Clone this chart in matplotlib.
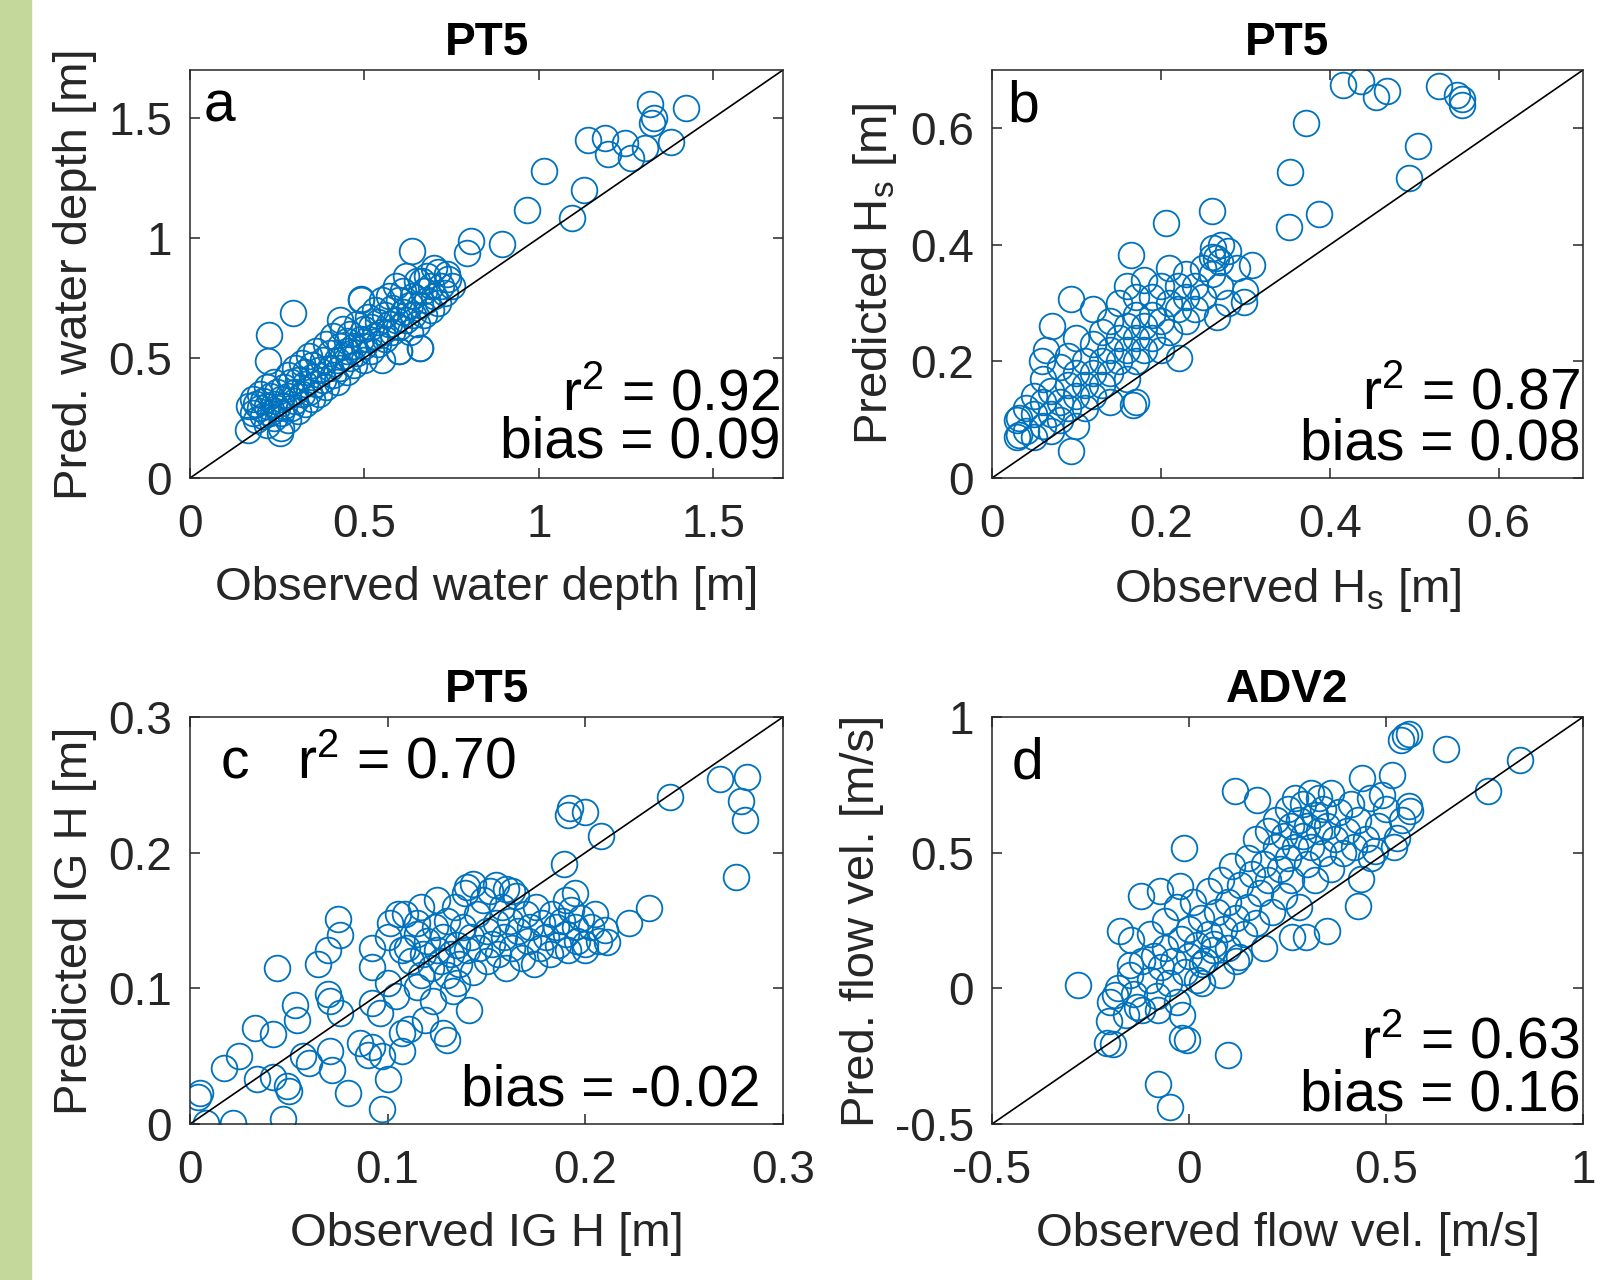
import numpy as np
import matplotlib
matplotlib.use("Agg")
import matplotlib.pyplot as plt

plt.rcParams['font.family'] = ['Liberation Sans', 'DejaVu Sans']
plt.rcParams['mathtext.fontset'] = 'custom'
plt.rcParams['mathtext.rm'] = 'Liberation Sans'
plt.rcParams['mathtext.it'] = 'Liberation Sans:italic'
plt.rcParams['mathtext.bf'] = 'Liberation Sans:bold'

# ---------------- data (observed, predicted) ----------------
pts_a = np.array([
    (1.318, 1.558), (1.423, 1.541), (1.331, 1.502), (1.325, 1.481), (1.379, 1.398),
    (1.141, 1.408), (1.191, 1.416), (1.197, 1.349), (1.247, 1.394), (1.264, 1.335),
    (1.303, 1.377), (1.015, 1.280), (1.130, 1.199), (0.965, 1.115), (1.096, 1.085),
    (0.805, 0.987), (0.794, 0.939), (0.895, 0.976), (0.635, 0.946), (0.699, 0.876),
    (0.738, 0.848), (0.666, 0.821), (0.296, 0.688), (0.227, 0.595), (0.660, 0.542),
    (0.600, 0.528), (0.166, 0.202), (0.257, 0.188), (0.224, 0.487), (0.490, 0.744),
    (0.430, 0.660),
    (0.17, 0.30), (0.18, 0.27), (0.18, 0.33), (0.19, 0.24), (0.19, 0.31), (0.20, 0.29),
    (0.20, 0.35), (0.21, 0.26), (0.21, 0.32), (0.22, 0.22), (0.22, 0.30), (0.22, 0.38),
    (0.23, 0.27), (0.23, 0.34), (0.24, 0.25), (0.24, 0.31), (0.24, 0.40), (0.25, 0.29),
    (0.25, 0.36), (0.26, 0.21), (0.26, 0.33), (0.26, 0.27),
    (0.27, 0.30), (0.27, 0.38), (0.28, 0.24), (0.28, 0.34), (0.28, 0.43), (0.29, 0.29),
    (0.29, 0.40), (0.30, 0.32), (0.30, 0.36), (0.30, 0.46), (0.31, 0.28), (0.31, 0.41),
    (0.32, 0.35), (0.32, 0.48), (0.33, 0.31), (0.33, 0.44), (0.33, 0.39), (0.34, 0.36),
    (0.34, 0.51), (0.35, 0.33), (0.35, 0.42), (0.35, 0.47),
    (0.36, 0.39), (0.36, 0.53), (0.37, 0.45), (0.37, 0.35), (0.38, 0.49), (0.38, 0.41),
    (0.39, 0.56), (0.39, 0.38), (0.40, 0.46), (0.40, 0.52), (0.41, 0.43), (0.41, 0.59),
    (0.42, 0.49), (0.42, 0.40), (0.43, 0.55), (0.43, 0.46), (0.44, 0.51), (0.44, 0.62),
    (0.45, 0.44), (0.45, 0.57), (0.45, 0.53),
    (0.46, 0.50), (0.46, 0.60), (0.47, 0.47), (0.47, 0.55), (0.48, 0.64), (0.48, 0.52),
    (0.49, 0.58), (0.49, 0.74), (0.50, 0.55), (0.50, 0.62), (0.50, 0.49), (0.51, 0.67),
    (0.51, 0.58), (0.52, 0.53), (0.52, 0.63), (0.53, 0.70), (0.53, 0.59), (0.54, 0.56),
    (0.54, 0.65), (0.55, 0.61), (0.55, 0.74), (0.55, 0.49),
    (0.56, 0.68), (0.56, 0.58), (0.57, 0.64), (0.57, 0.76), (0.58, 0.61), (0.58, 0.71),
    (0.59, 0.66), (0.59, 0.80), (0.60, 0.63), (0.60, 0.74), (0.60, 0.53), (0.61, 0.69),
    (0.61, 0.78), (0.62, 0.66), (0.62, 0.84), (0.63, 0.72), (0.63, 0.61), (0.64, 0.76),
    (0.64, 0.68), (0.65, 0.82), (0.65, 0.64),
    (0.66, 0.72), (0.66, 0.54), (0.67, 0.78), (0.67, 0.68), (0.68, 0.84), (0.68, 0.74),
    (0.69, 0.70), (0.69, 0.80), (0.70, 0.76), (0.71, 0.86), (0.71, 0.73), (0.72, 0.80),
    (0.73, 0.77), (0.74, 0.83), (0.75, 0.80),
])

pts_b = np.array([
    (0.416, 0.675), (0.437, 0.681), (0.455, 0.653), (0.468, 0.664), (0.530, 0.673),
    (0.551, 0.657), (0.557, 0.651), (0.557, 0.640), (0.372, 0.609), (0.505, 0.569),
    (0.353, 0.525), (0.494, 0.514), (0.206, 0.438), (0.260, 0.458), (0.352, 0.431),
    (0.387, 0.453), (0.165, 0.383), (0.262, 0.394), (0.271, 0.400), (0.265, 0.377),
    (0.308, 0.366), (0.299, 0.302), (0.093, 0.307), (0.071, 0.260), (0.094, 0.047),
    (0.167, 0.126), (0.170, 0.130), (0.222, 0.206), (0.267, 0.277), (0.032, 0.103),
    (0.032, 0.074), (0.059, 0.200), (0.064, 0.220),
    (0.03, 0.10), (0.03, 0.07), (0.04, 0.12), (0.04, 0.08), (0.05, 0.11), (0.05, 0.14),
    (0.05, 0.07), (0.06, 0.09), (0.06, 0.13), (0.06, 0.17), (0.07, 0.11), (0.07, 0.15),
    (0.07, 0.08), (0.08, 0.13), (0.08, 0.19), (0.08, 0.10), (0.09, 0.16), (0.09, 0.12),
    (0.09, 0.21), (0.10, 0.14), (0.10, 0.18), (0.10, 0.09), (0.10, 0.24), (0.11, 0.16),
    (0.11, 0.20), (0.11, 0.12), (0.12, 0.18), (0.12, 0.23), (0.12, 0.14), (0.12, 0.29),
    (0.13, 0.20), (0.13, 0.16), (0.13, 0.25), (0.14, 0.22), (0.14, 0.18), (0.14, 0.27),
    (0.14, 0.13), (0.15, 0.24), (0.15, 0.20), (0.15, 0.30), (0.16, 0.22), (0.16, 0.26),
    (0.16, 0.17), (0.16, 0.33), (0.17, 0.24), (0.17, 0.28), (0.17, 0.20), (0.17, 0.31),
    (0.18, 0.26), (0.18, 0.22), (0.18, 0.34), (0.19, 0.28), (0.19, 0.24), (0.19, 0.31),
    (0.20, 0.27), (0.20, 0.33), (0.20, 0.22), (0.21, 0.30), (0.21, 0.36), (0.21, 0.25),
    (0.22, 0.29), (0.22, 0.33), (0.23, 0.31), (0.23, 0.27), (0.23, 0.35), (0.24, 0.33),
    (0.24, 0.29), (0.25, 0.36), (0.25, 0.31), (0.26, 0.38), (0.26, 0.35), (0.27, 0.37),
    (0.27, 0.33), (0.28, 0.39), (0.28, 0.30), (0.29, 0.36), (0.30, 0.32),
])

pts_c = np.array([
    (0.282, 0.256), (0.268, 0.254), (0.279, 0.238), (0.281, 0.224), (0.276, 0.182),
    (0.243, 0.241), (0.192, 0.233), (0.191, 0.228), (0.200, 0.230), (0.208, 0.212),
    (0.189, 0.192), (0.232, 0.159), (0.222, 0.148), (0.211, 0.134), (0.210, 0.143),
    (0.200, 0.133), (0.075, 0.151), (0.076, 0.139), (0.070, 0.128), (0.065, 0.118),
    (0.044, 0.115), (0.070, 0.096), (0.071, 0.091), (0.076, 0.082), (0.053, 0.088),
    (0.054, 0.077), (0.033, 0.071), (0.042, 0.066), (0.025, 0.050), (0.017, 0.041),
    (0.005, 0.023), (0.004, 0.020), (0.008, 0.001), (0.022, 0.001), (0.047, 0.004),
    (0.097, 0.011), (0.080, 0.023), (0.100, 0.033), (0.034, 0.033), (0.042, 0.035),
    (0.049, 0.028), (0.050, 0.024), (0.057, 0.050), (0.060, 0.045), (0.071, 0.054),
    (0.072, 0.040), (0.086, 0.060), (0.092, 0.057), (0.090, 0.051), (0.097, 0.050),
    (0.107, 0.054), (0.107, 0.067), (0.111, 0.070), (0.119, 0.077), (0.128, 0.067),
    (0.130, 0.062), (0.141, 0.084), (0.123, 0.091), (0.096, 0.082), (0.092, 0.089),
    (0.100, 0.104), (0.104, 0.094), (0.115, 0.101), (0.133, 0.098), (0.135, 0.104),
    (0.092, 0.116), (0.100, 0.138), (0.101, 0.148), (0.109, 0.155), (0.115, 0.148),
    (0.107, 0.128), (0.092, 0.130),
    (0.110, 0.130), (0.112, 0.120), (0.115, 0.140), (0.117, 0.110), (0.118, 0.125),
    (0.120, 0.135), (0.122, 0.115), (0.124, 0.145), (0.125, 0.128), (0.127, 0.120),
    (0.128, 0.138), (0.130, 0.110), (0.130, 0.150), (0.132, 0.125), (0.134, 0.160),
    (0.135, 0.132), (0.136, 0.118), (0.138, 0.145), (0.139, 0.170), (0.140, 0.128),
    (0.142, 0.138), (0.143, 0.112), (0.145, 0.155), (0.146, 0.130), (0.148, 0.165),
    (0.150, 0.120), (0.150, 0.142), (0.152, 0.172), (0.153, 0.133), (0.155, 0.148),
    (0.156, 0.125), (0.158, 0.160), (0.159, 0.138), (0.160, 0.115), (0.162, 0.150),
    (0.163, 0.130), (0.165, 0.168), (0.166, 0.142), (0.168, 0.122), (0.170, 0.155),
    (0.171, 0.135), (0.172, 0.145), (0.174, 0.118), (0.175, 0.160), (0.177, 0.130),
    (0.178, 0.148), (0.180, 0.138), (0.182, 0.125), (0.183, 0.155), (0.185, 0.145),
    (0.186, 0.132), (0.188, 0.150), (0.190, 0.140), (0.191, 0.128), (0.193, 0.158),
    (0.195, 0.145), (0.196, 0.135), (0.198, 0.152), (0.200, 0.128), (0.203, 0.145),
    (0.205, 0.155), (0.207, 0.135), (0.190, 0.165), (0.195, 0.170), (0.140, 0.175),
    (0.160, 0.173), (0.125, 0.165), (0.117, 0.160), (0.105, 0.155), (0.143, 0.177),
    (0.155, 0.176), (0.163, 0.172),
])

pts_d = np.array([
    (0.549, 0.930), (0.558, 0.939), (0.539, 0.915), (0.652, 0.882), (0.840, 0.841),
    (0.760, 0.728), (0.440, 0.774), (0.515, 0.787), (0.117, 0.726), (0.172, 0.695),
    (0.490, 0.713), (0.558, 0.671), (0.560, 0.652), (0.529, 0.555), (0.471, 0.506),
    (0.461, 0.482), (0.437, 0.402), (0.430, 0.305), (-0.013, 0.518), (-0.123, 0.341),
    (-0.073, 0.360), (-0.024, 0.378), (-0.175, 0.213), (-0.146, 0.177), (-0.282, 0.012),
    (-0.150, 0.085), (-0.189, -0.025), (-0.204, -0.122), (-0.209, -0.201), (-0.194, -0.207),
    (-0.131, -0.067), (-0.078, -0.079), (-0.019, -0.183), (-0.005, -0.189), (0.100, -0.244),
    (-0.078, -0.354), (-0.049, -0.439), (-0.017, -0.098), (0.034, 0.018), (0.063, 0.165),
    (0.350, 0.213), (0.296, 0.189), (0.262, 0.189), (0.126, 0.116), (0.034, 0.091),
    (-0.20, -0.05), (-0.18, 0.00), (-0.16, -0.10), (-0.15, 0.05), (-0.14, -0.02),
    (-0.12, 0.10), (-0.12, -0.08), (-0.10, 0.03), (-0.10, 0.20), (-0.09, 0.12),
    (-0.08, -0.03), (-0.07, 0.08), (-0.06, 0.25), (-0.06, 0.15), (-0.05, 0.02),
    (-0.04, 0.10), (-0.03, 0.30), (-0.03, -0.05), (-0.02, 0.18), (-0.01, 0.06),
    (0.00, 0.22), (0.00, 0.12), (0.01, 0.32), (0.02, 0.03), (0.02, 0.16),
    (0.03, 0.26), (0.04, 0.10), (0.05, 0.20), (0.05, 0.36), (0.06, 0.14),
    (0.07, 0.28), (0.08, 0.05), (0.08, 0.40), (0.09, 0.22), (0.10, 0.32),
    (0.10, 0.15), (0.11, 0.45), (0.12, 0.26), (0.12, 0.10), (0.13, 0.38),
    (0.14, 0.20), (0.15, 0.48), (0.15, 0.30), (0.16, 0.42), (0.17, 0.24),
    (0.17, 0.55), (0.18, 0.35), (0.19, 0.46), (0.19, 0.15), (0.20, 0.58),
    (0.20, 0.40), (0.21, 0.28), (0.22, 0.52), (0.22, 0.62), (0.23, 0.44),
    (0.24, 0.34), (0.24, 0.56), (0.25, 0.66), (0.25, 0.48), (0.26, 0.60),
    (0.26, 0.40), (0.27, 0.70), (0.27, 0.52), (0.28, 0.62), (0.28, 0.30),
    (0.29, 0.56), (0.29, 0.68), (0.30, 0.46), (0.30, 0.60), (0.31, 0.72),
    (0.31, 0.52), (0.32, 0.64), (0.32, 0.40), (0.33, 0.58), (0.33, 0.70),
    (0.34, 0.50), (0.34, 0.66), (0.35, 0.60), (0.36, 0.72), (0.36, 0.44),
    (0.37, 0.55), (0.38, 0.65), (0.39, 0.50), (0.40, 0.58), (0.41, 0.68),
    (0.42, 0.52), (0.43, 0.62), (0.45, 0.55), (0.46, 0.70), (0.48, 0.60),
    (0.50, 0.66), (0.52, 0.52), (0.54, 0.62),
])

titles = ["PT5", "PT5", "PT5", "ADV2"]
panel_letters = ["a", "b", "c", "d"]
xlabels = ["Observed water depth [m]", r"Observed H$_{\mathrm{s}}$ [m]",
           "Observed IG H [m]", "Observed flow vel. [m/s]"]
ylabels = ["Pred. water depth [m]", r"Predicted H$_{\mathrm{s}}$ [m]",
           "Predicted IG H [m]", "Pred. flow vel. [m/s]"]
limits = [(0, 1.7), (0, 0.7), (0, 0.3), (-0.5, 1.0)]
ticks = [[0, 0.5, 1, 1.5], [0, 0.2, 0.4, 0.6], [0, 0.1, 0.2, 0.3], [-0.5, 0, 0.5, 1]]
ticklabels = [["0", "0.5", "1", "1.5"], ["0", "0.2", "0.4", "0.6"],
              ["0", "0.1", "0.2", "0.3"], ["-0.5", "0", "0.5", "1"]]
r2_text = ["0.92", "0.87", "0.70", "0.63"]
bias_text = ["0.09", "0.08", "-0.02", "0.16"]

# ---------------- figure ----------------
W, H = 1612, 1280
fig = plt.figure(figsize=(W / 100, H / 100), dpi=100)
fig.patches.append(plt.Rectangle((0, 0), 31 / W, 1, transform=fig.transFigure,
                                 color='#c5d89c', zorder=0))

rects = [
    (190 / W, 1 - 478 / H, (783 - 190) / W, (478 - 70) / H),
    (992 / W, 1 - 478 / H, (1583 - 992) / W, (478 - 70) / H),
    (190 / W, 1 - 1124 / H, (783 - 190) / W, (1124 - 717) / H),
    (992 / W, 1 - 1124 / H, (1583 - 992) / W, (1124 - 717) / H),
]

blue = '#0072BD'
dark = '#262626'
fs_tick = 33
fs_lab = 34
fs_title = 33
fs_ann = 41

for i, pts in enumerate([pts_a, pts_b, pts_c, pts_d]):
    ax = fig.add_axes(rects[i])
    lo, hi = limits[i]
    ax.plot(pts[:, 0], pts[:, 1], linestyle='none', marker='o', markersize=18.5,
            markerfacecolor='none', markeredgecolor=blue, markeredgewidth=1.3,
            clip_on=True)
    ax.plot([lo, hi], [lo, hi], color='black', lw=1.2)
    ax.set_xlim(lo, hi)
    ax.set_ylim(lo, hi)
    ax.set_xticks(ticks[i])
    ax.set_yticks(ticks[i])
    ax.set_xticklabels(ticklabels[i])
    ax.set_yticklabels(ticklabels[i])
    ax.tick_params(direction='in', length=7, width=1.1, top=True, right=True,
                   labelsize=fs_tick, colors=dark)
    ax.tick_params(axis='x', pad=18)
    ax.tick_params(axis='y', pad=13)
    for s in ax.spines.values():
        s.set_color(dark)
        s.set_linewidth(1.1)
    ax.set_xlabel(xlabels[i], fontsize=fs_lab, color=dark, labelpad=14)
    ax.set_ylabel(ylabels[i], fontsize=fs_lab, color=dark, labelpad=8)
    ax.set_title(titles[i], fontsize=fs_title, fontweight='bold', color='black', pad=11)

    if i == 2:
        ax.text(0.075, 0.85, "c", transform=ax.transAxes, fontsize=fs_ann,
                ha='center', va='baseline')
        ax.text(0.18, 0.85, r"r$^{\mathrm{2}}$ = " + r2_text[i], transform=ax.transAxes,
                fontsize=fs_ann, ha='left', va='baseline')
        ax.text(0.962, 0.046, "bias = " + bias_text[i], transform=ax.transAxes,
                fontsize=fs_ann, ha='right', va='baseline')
    else:
        lx = [0.05, 0.052, 0, 0.06][i]
        ly = [0.874, 0.874, 0, 0.85][i]
        by = [0.05, 0.045, 0, 0.033][i]
        ls = [0.83, 0.90, 0, 0.96][i]
        ax.text(lx, ly, panel_letters[i], transform=ax.transAxes, fontsize=fs_ann,
                ha='center', va='baseline')
        ax.text(0.995, by,
                r"r$^{\mathrm{2}}$ = " + r2_text[i] + "\nbias = " + bias_text[i],
                transform=ax.transAxes, fontsize=fs_ann, ha='right', va='baseline',
                multialignment='right', linespacing=ls)

fig.savefig("out.png", dpi=100)
